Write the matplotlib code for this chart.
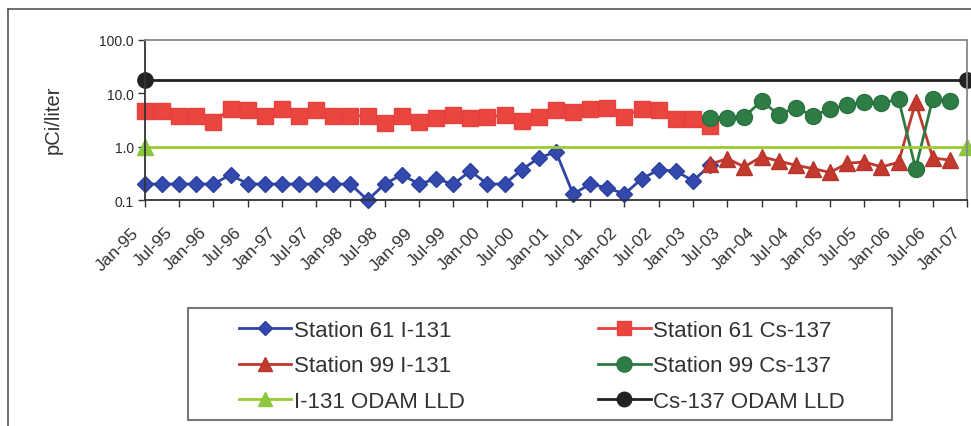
import numpy as np
import matplotlib
matplotlib.use("Agg")
import matplotlib.pyplot as plt
import matplotlib.transforms as mtransforms
from matplotlib.lines import Line2D
from matplotlib.patches import Rectangle

plt.rcParams['font.family'] = ['Liberation Sans', 'DejaVu Sans']

# Quarterly samples, Jan-95 .. Jan-07 (49 categories)
quarters = list(range(49))
tick_labels = ["Jan-95", "Jul-95", "Jan-96", "Jul-96", "Jan-97", "Jul-97", "Jan-98",
               "Jul-98", "Jan-99", "Jul-99", "Jan-00", "Jul-00", "Jan-01", "Jul-01",
               "Jan-02", "Jul-02", "Jan-03", "Jul-03", "Jan-04", "Jul-04", "Jan-05",
               "Jul-05", "Jan-06", "Jul-06", "Jan-07"]

# Station 61 (quarters 0..33)
st61_i131 = [0.2, 0.2, 0.2, 0.2, 0.2, 0.3, 0.2, 0.2, 0.2, 0.2, 0.2, 0.2, 0.2, 0.1,
             0.2, 0.3, 0.2, 0.25, 0.2, 0.35, 0.2, 0.2, 0.37, 0.62, 0.8, 0.13,
             0.2, 0.17, 0.13, 0.25, 0.37, 0.35, 0.23, 0.45]
st61_cs137 = [4.7, 4.7, 3.8, 3.8, 2.9, 5.2, 4.9, 3.8, 5.2, 3.8, 4.9, 3.8, 3.8, 3.8,
              2.8, 3.8, 2.9, 3.5, 3.9, 3.5, 3.65, 3.9, 3.0, 3.65, 4.9, 4.4,
              5.1, 5.4, 3.65, 5.2, 4.9, 3.3, 3.3, 2.4]
# Station 99 (quarters 33..47)
st99_i131 = [0.47, 0.6, 0.42, 0.65, 0.54, 0.45, 0.39, 0.33, 0.49, 0.52, 0.42, 0.51,
             6.8, 0.62, 0.56]
st99_cs137 = [3.5, 3.5, 3.65, 7.2, 4.0, 5.4, 3.8, 5.1, 6.0, 6.8, 6.5, 7.8, 0.39,
              8.0, 7.2]
st61_start = 0
st99_start = 33

# detection limits (plotted at first and last category)
lld_x = [0, 48]
i131_lld = [1.0, 1.0]
cs137_lld = [18.0, 18.0]

fig = plt.figure(figsize=(9.71, 4.27), dpi=100)
ax = fig.add_axes([0.1493, 0.529, 0.8466, 0.375])

x61 = quarters[st61_start:st61_start + len(st61_i131)]
x99 = quarters[st99_start:st99_start + len(st99_i131)]

h1, = ax.plot(x61, st61_i131, color="#2f45a6", lw=2, marker="D", ms=8,
              mec="#2b3f9c", mfc="#3349ad", label="Station 61 I-131", clip_on=False)
h2, = ax.plot(x61, st61_cs137, color="#e8403c", lw=2, marker="s", ms=11,
              mec="#e8403c", mfc="#ea4640", label="Station 61 Cs-137", clip_on=False)
h3, = ax.plot(x99, st99_i131, color="#c0392e", lw=2, marker="^", ms=11,
              mec="#b8342a", mfc="#c23a2f", label="Station 99 I-131", clip_on=False)
h4, = ax.plot(x99, st99_cs137, color="#2d7a44", lw=2, marker="o", ms=11.5,
              mec="#2a7140", mfc="#2f7d46", label="Station 99 Cs-137", clip_on=False)
h5, = ax.plot(lld_x, i131_lld, color="#9acb2f", lw=2, marker="^", ms=11,
              mec="#8cc63f", mfc="#8cc63f", label="I-131 ODAM LLD", clip_on=False)
h6, = ax.plot(lld_x, cs137_lld, color="#222222", lw=2, marker="o", ms=11,
              mec="#222222", mfc="#222222", label="Cs-137 ODAM LLD", clip_on=False)

ax.set_yscale("log")
ax.set_ylim(0.1, 100)
ax.set_yticks([0.1, 1, 10, 100])
ax.set_yticklabels(["0.1", "1.0", "10.0", "100.0"], fontsize=10, color="#2a2a2a")
ax.yaxis.set_minor_locator(matplotlib.ticker.NullLocator())
ax.set_xlim(0, 48)
ax.set_xticks(quarters[::2])
ax.set_xticklabels(tick_labels, rotation=45, ha="right", va="center",
                   rotation_mode="anchor", fontsize=12.5, color="#333333")
ax.tick_params(axis="both", direction="out", length=5, width=1, color="#333333")
ax.tick_params(axis="x", pad=4)
ax.tick_params(axis="y", pad=3)
ax.set_ylabel("pCi/liter", fontsize=14.5, color="#333333")
ax.yaxis.set_label_coords(-0.1, 0.51)

# shift rotated date labels slightly down/left
shift = mtransforms.ScaledTranslation(-9 / 100, -17 / 100, fig.dpi_scale_trans)
for lbl in ax.get_xticklabels():
    lbl.set_transform(lbl.get_transform() + shift)

ax.spines["left"].set_color("#333333")
ax.spines["bottom"].set_color("#333333")
ax.spines["top"].set_color("#888888")
ax.spines["right"].set_color("#888888")
for s in ax.spines.values():
    s.set_linewidth(1.3)

# legend, filled row by row like the original
order = [h1, h3, h5, h2, h4, h6]
leg = fig.legend(order, [h.get_label() for h in order],
                 ncol=2, loc="upper left",
                 bbox_to_anchor=(239 / 971, 1 - 321 / 427),
                 fontsize=16, handlelength=2.35, handletextpad=0.13,
                 labelspacing=0.65, columnspacing=6.0, borderpad=0,
                 borderaxespad=0, frameon=False, markerscale=0.95)
for t in leg.get_texts():
    t.set_color("#333333")
fig.add_artist(Rectangle((188 / 971, 1 - 421 / 427), 704 / 971, 112 / 427,
                         transform=fig.transFigure, fill=False,
                         edgecolor="#777777", lw=1.5))

# outer chart border
fig.add_artist(Line2D([8 / 971, 8 / 971], [0, 1 - 10 / 427], color="#555555", lw=1.2))
fig.add_artist(Line2D([8 / 971, 1], [1 - 10 / 427, 1 - 10 / 427], color="#555555", lw=1.2))

fig.savefig("out.png", dpi=100)
